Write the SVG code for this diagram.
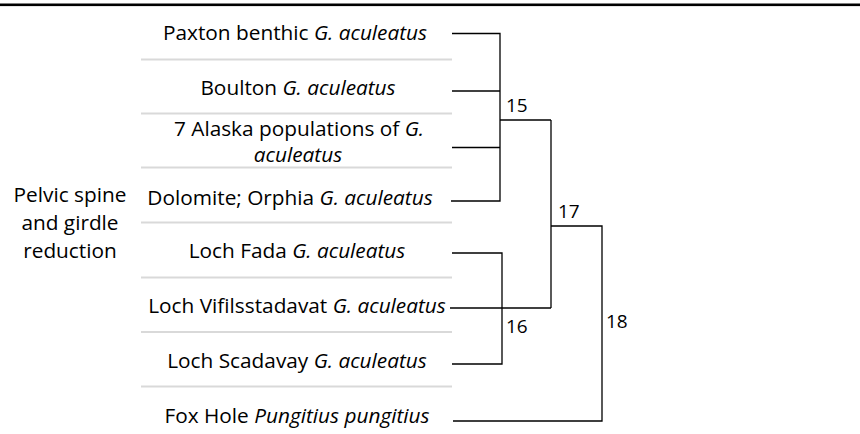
<svg xmlns="http://www.w3.org/2000/svg" width="860" height="434" viewBox="0 0 860 434">
<style>
text{font-family:"Open Sans","Liberation Sans",sans-serif;font-size:20.8px;fill:#000}
.t{text-anchor:middle}
.i{font-style:italic}
.n{font-size:19px}
.sep{stroke:#d9d9d9;stroke-width:2;fill:none}
.c{stroke:#000;stroke-width:1.3;fill:none}
</style>
<rect x="0" y="3.5" width="860" height="2.6" fill="#000"/>
<g id="separators">
<line class="sep" x1="141" y1="59.5" x2="452" y2="59.5"/>
<line class="sep" x1="141" y1="113.5" x2="452" y2="113.5"/>
<line class="sep" x1="141" y1="167.5" x2="452" y2="167.5"/>
<line class="sep" x1="141" y1="222.5" x2="452" y2="222.5"/>
<line class="sep" x1="141" y1="277.5" x2="452" y2="277.5"/>
<line class="sep" x1="141" y1="332" x2="452" y2="332"/>
<line class="sep" x1="141" y1="386.5" x2="452" y2="386.5"/>
</g>
<g id="group-label">
<text class="t" x="70" y="202">Pelvic spine</text>
<text class="t" x="70" y="230">and girdle</text>
<text class="t" x="70" y="258">reduction</text>
</g>
<g id="n-paxton"><text class="t" x="295" y="40">Paxton benthic <tspan class="i">G. aculeatus</tspan></text></g>
<g id="n-boulton"><text class="t" x="298" y="95">Boulton <tspan class="i">G. aculeatus</tspan></text></g>
<g id="n-alaska"><text class="t" x="299" y="135.5">7 Alaska populations of <tspan class="i">G.</tspan></text><text class="t i" x="298" y="162">aculeatus</text></g>
<g id="n-dolomite"><text class="t" x="290" y="205">Dolomite; Orphia <tspan class="i">G. aculeatus</tspan></text></g>
<g id="n-fada"><text class="t" x="297" y="258">Loch Fada <tspan class="i">G. aculeatus</tspan></text></g>
<g id="n-vifils"><text class="t" x="297" y="313">Loch Vifilsstadavat <tspan class="i">G. aculeatus</tspan></text></g>
<g id="n-scadavay"><text class="t" x="297" y="368">Loch Scadavay <tspan class="i">G. aculeatus</tspan></text></g>
<g id="n-foxhole"><text class="t" x="297" y="423">Fox Hole <tspan class="i">Pungitius pungitius</tspan></text></g>
<g id="n15"><text class="n" x="506" y="112">15</text></g>
<g id="n16"><text class="n" x="506" y="333">16</text></g>
<g id="n17"><text class="n" x="558" y="218">17</text></g>
<g id="n18"><text class="n" x="606" y="328">18</text></g>
<g id="connectors">
<polyline class="c" points="452,33.5 500,33.5 500,201 451,201"/>
<line class="c" x1="452" y1="91" x2="500" y2="91"/>
<line class="c" x1="452" y1="147.5" x2="500" y2="147.5"/>
<line class="c" x1="500" y1="120" x2="551" y2="120"/>
<polyline class="c" points="452,253 502,253 502,364 452,364"/>
<line class="c" x1="450" y1="308" x2="551" y2="308"/>
<line class="c" x1="551" y1="120" x2="551" y2="308"/>
<polyline class="c" points="551,226 602,226 602,421 453,421"/>
</g>
</svg>
